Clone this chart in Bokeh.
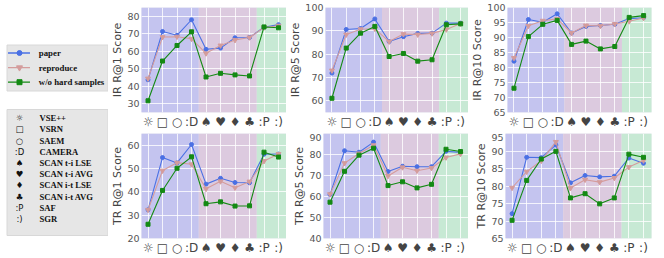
from bokeh.plotting import figure
from bokeh.layouts import row, column
from bokeh.models import Range1d, FixedTicker, BoxAnnotation
from bokeh.embed import file_html
from bokeh.resources import INLINE
from bokeh.core.properties import value

# ---------------- data ----------------
methods = ["VSE++", "VSRN", "SAEM", "CAMERA", "SCAN t-i LSE", "SCAN t-i AVG",
           "SCAN i-t LSE", "SCAN i-t AVG", "SAF", "SGR"]
symbols = ["☼", "□", "○", ":D", "♠", "♥", "♦", "♣", ":P", ":)"]
groups = [0, 0, 0, 0, 1, 1, 1, 1, 2, 2]
series_names = ["paper", "reproduce", "w/o hard samples"]

ir1_paper = [43.7, 71.3, 69.1, 78.0, 61.1, 61.8, 67.7, 67.9, 73.7, 75.2]
ir1_repro = [44.4, 68.1, 68.3, 67.1, 58.8, 63.3, 66.4, 67.9, 73.6, 74.6]
ir1_wo = [31.7, 54.4, 63.3, 71.1, 45.3, 47.4, 46.5, 45.9, 73.9, 73.4]

ir5_paper = [71.9, 90.6, 91.0, 95.1, 85.4, 87.5, 88.9, 89.0, 93.3, 93.3]
ir5_repro = [73.0, 88.4, 90.7, 90.9, 85.4, 88.6, 88.4, 88.9, 90.6, 93.1]
ir5_wo = [61.1, 82.6, 89.0, 91.9, 79.0, 80.3, 77.0, 77.6, 92.6, 93.0]

ir10_paper = [82.1, 96.0, 95.1, 97.9, 91.5, 93.7, 94.0, 94.4, 96.3, 96.6]
ir10_repro = [83.2, 93.9, 95.6, 96.2, 91.5, 94.0, 93.9, 94.5, 95.4, 96.5]
ir10_wo = [73.1, 90.3, 94.4, 95.7, 87.7, 88.8, 86.2, 87.0, 96.7, 97.3]

tr1_paper = [32.3, 54.7, 52.4, 60.3, 43.3, 45.8, 44.0, 43.9, 56.1, 56.2]
tr1_repro = [32.3, 49.1, 52.5, 51.8, 41.3, 44.5, 41.8, 44.4, 53.2, 56.2]
tr1_wo = [26.1, 40.6, 50.1, 55.0, 34.9, 35.7, 33.9, 34.0, 57.0, 54.9]

tr5_paper = [60.9, 81.8, 81.1, 85.9, 71.9, 74.4, 74.2, 74.2, 81.5, 81.0]
tr5_repro = [61.1, 75.9, 80.5, 84.4, 69.8, 73.9, 72.3, 73.6, 78.6, 80.3]
tr5_wo = [57.3, 72.0, 79.7, 83.0, 65.2, 67.0, 64.1, 65.8, 82.5, 81.4]

tr10_paper = [72.1, 88.2, 88.1, 91.7, 80.9, 83.0, 82.6, 82.8, 88.0, 86.5]
tr10_repro = [79.5, 84.1, 87.2, 92.6, 79.4, 81.8, 81.1, 82.3, 85.4, 87.3]
tr10_wo = [70.2, 81.6, 87.7, 89.9, 76.6, 77.8, 74.9, 76.6, 89.1, 88.2]

y_labels = ["IR R@1 Score", "IR R@5 Score", "IR R@10 Score",
            "TR R@1 Score", "TR R@5 Score", "TR R@10 Score"]
y_limits = [(25, 85), (55, 100), (65, 100), (20, 65), (40, 90), (65, 95)]
y_ticks = [[30, 40, 50, 60, 70, 80], [60, 70, 80, 90, 100],
           [65, 70, 75, 80, 85, 90, 95, 100], [20, 30, 40, 50, 60],
           [40, 50, 60, 70, 80, 90], [65, 70, 75, 80, 85, 90, 95]]
panel_series = [(ir1_paper, ir1_repro, ir1_wo), (ir5_paper, ir5_repro, ir5_wo),
                (ir10_paper, ir10_repro, ir10_wo), (tr1_paper, tr1_repro, tr1_wo),
                (tr5_paper, tr5_repro, tr5_wo), (tr10_paper, tr10_repro, tr10_wo)]

# ---------------- style ----------------
series_colors = ["#4a70e4", "#d49c9c", "#148a14"]
series_markers = ["circle", "inverted_triangle", "square"]
series_sizes = [4, 5, 4]
group_colors = ["#c4c4ef", "#dccadf", "#c7e9d4"]

col_left = [32, 37, 37]
col_frame = [146, 145, 146]
col_right = [0, 0, 13]
row_top = [7, 0]
row_frame = [105, 105]
row_bottom = [21, 20]

xs = list(range(len(methods)))


def make_panel(k):
    c, r = k % 3, k // 3
    ylo, yhi = y_limits[k]
    p = figure(width=col_left[c] + col_frame[c] + col_right[c],
               height=row_top[r] + row_frame[r] + row_bottom[r],
               x_range=Range1d(-0.45, len(methods) - 0.45), y_range=Range1d(ylo, yhi),
               output_backend="svg", toolbar_location=None, min_border=0,
               min_border_left=col_left[c], min_border_right=col_right[c],
               min_border_top=row_top[r], min_border_bottom=row_bottom[r])
    p.outline_line_color = None
    p.background_fill_color = "#eaeaf2"
    for g in sorted(set(groups)):
        idx = [i for i, gg in enumerate(groups) if gg == g]
        left = min(idx) - 0.5
        right = max(idx) + 0.5
        if g == groups[0]:
            left -= 0.5
        if g == groups[-1]:
            right += 0.5
        p.add_layout(BoxAnnotation(left=left, right=right, fill_color=group_colors[g],
                                   fill_alpha=1.0, line_color=None, level="image"))
    p.xaxis.ticker = FixedTicker(ticks=xs)
    p.xaxis.major_label_overrides = {i: s for i, s in enumerate(symbols)}
    p.xaxis.major_label_text_font = "DejaVu Sans"
    p.xaxis.major_label_text_font_size = "12px"
    p.xaxis.major_label_text_color = "#444444"
    p.xaxis.major_label_standoff = 2
    p.xaxis.major_tick_line_color = None
    p.xaxis.major_tick_out = 0
    p.xaxis.major_tick_in = 0
    p.xaxis.minor_tick_line_color = None
    p.xaxis.axis_line_color = None
    p.yaxis.ticker = FixedTicker(ticks=y_ticks[k])
    p.yaxis.major_label_text_font = "DejaVu Sans"
    p.yaxis.major_label_text_font_size = "9.5px"
    p.yaxis.major_label_text_color = "#555555"
    p.yaxis.major_label_standoff = 2
    p.yaxis.major_tick_line_color = None
    p.yaxis.major_tick_out = 0
    p.yaxis.major_tick_in = 0
    p.yaxis.minor_tick_line_color = None
    p.yaxis.axis_line_color = None
    p.yaxis.axis_label = y_labels[k]
    p.yaxis.axis_label_text_font = "DejaVu Sans"
    p.yaxis.axis_label_text_font_size = "11px"
    p.yaxis.axis_label_text_font_style = "normal"
    p.yaxis.axis_label_text_color = "#444444"
    p.yaxis.axis_label_standoff = 0
    p.xgrid.ticker = FixedTicker(ticks=xs)
    p.grid.grid_line_color = "white"
    p.grid.grid_line_width = 1
    p.grid.grid_line_alpha = 0.8
    for s, vals in enumerate(panel_series[k]):
        p.line(xs, vals, line_color=series_colors[s], line_width=1.1)
        p.scatter(xs, vals, marker=series_markers[s], size=series_sizes[s],
                  fill_color=series_colors[s], line_color=series_colors[s])
    return p


panels = [make_panel(k) for k in range(6)]

# ---------------- legend panel ----------------
LW, LH = 108, 258
leg = figure(width=LW, height=LH, x_range=Range1d(0, LW), y_range=Range1d(LH, 0),
             output_backend="svg", toolbar_location=None, min_border=0,
             x_axis_location=None, y_axis_location=None)
leg.grid.visible = False
leg.outline_line_color = None
leg.background_fill_color = "white"

# legend 1: series
leg.quad(left=[6.5], right=[107.5], top=[44.5], bottom=[90.5],
         fill_color="#e6e6e6", line_color="#d8d8d8")
l1_y = [52.5 + 14.6 * i for i in range(len(series_names))]
for s, yy in enumerate(l1_y):
    leg.line([7.5, 29.5], [yy, yy], line_color=series_colors[s], line_width=1.3)
    leg.scatter([19], [yy], marker=series_markers[s], size=series_sizes[s] + 1,
                fill_color=series_colors[s], line_color=series_colors[s])
leg.text(x=[38.3] * len(series_names), y=l1_y, text=series_names,
         text_font=value("Liberation Serif"), text_font_style="bold",
         text_font_size="8.8px", text_baseline="middle", text_color="#111111")

# legend 2: methods
leg.quad(left=[6.5], right=[107.5], top=[109], bottom=[235],
         fill_color="#e6e6e6", line_color="#d8d8d8")
l2_y = [117.7 + 11.2 * i for i in range(len(methods))]
leg.text(x=[19] * len(symbols), y=l2_y, text=symbols,
         text_font=value("DejaVu Sans"), text_font_size="8.5px",
         text_align="center", text_baseline="middle", text_color="#111111")
leg.text(x=[39] * len(methods), y=l2_y, text=methods,
         text_font=value("Liberation Serif"), text_font_style="bold",
         text_font_size="8.6px", text_baseline="middle", text_color="#111111")

layout = row(leg, column(row(*panels[:3]), row(*panels[3:])))

open("out.html", "w").write(file_html(layout, INLINE))
